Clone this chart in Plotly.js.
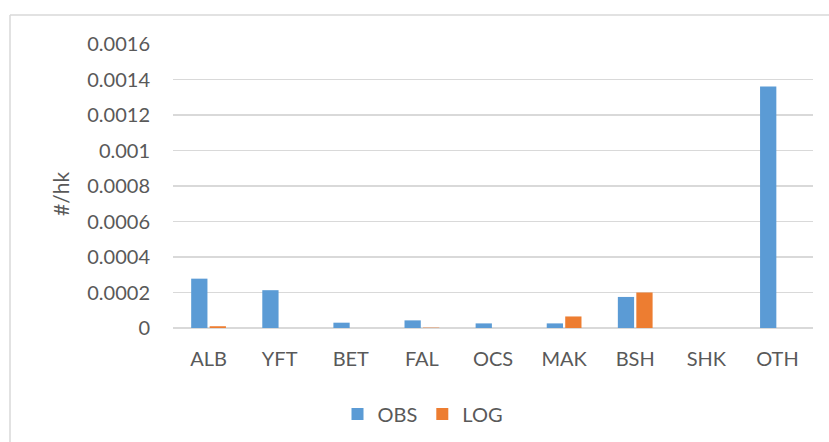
<!DOCTYPE html>
<html>
<head>
<meta charset="utf-8">
<script src="https://cdn.plot.ly/plotly-3.0.1.min.js"></script>
<style>html,body{margin:0;padding:0;background:#fff;}#chart{width:829px;height:442px;}</style>
</head>
<body>
<div id="chart"></div>
<script>
const categories = ["ALB", "YFT", "BET", "FAL", "OCS", "MAK", "BSH", "SHK", "OTH"];
const obsValues = [0.000278, 0.000213, 0.00003, 0.000043, 0.000026, 0.000026, 0.000175, 0, 0.00136];
const logValues = [0.00001, 0, 0, 0.000002, 0, 0.000065, 0.0002, 0, 0];
const yTickVals = [0, 0.0002, 0.0004, 0.0006, 0.0008, 0.001, 0.0012, 0.0014, 0.0016];
const yTickText = ["0", "0.0002", "0.0004", "0.0006", "0.0008", "0.001", "0.0012", "0.0014", "0.0016"];

const fontFam = "Lato, 'Open Sans', sans-serif";
const textColor = "#595959";

const data = [
  {type: "bar", name: "OBS", x: categories, y: obsValues, marker: {color: "#5b9bd5"}},
  {type: "bar", name: "LOG", x: categories, y: logValues, marker: {color: "#ed7d31"}}
];

const L = 173, R = 813, T = 44, B = 328;
const W = R - L, H = B - T;
const px = v => (v - L) / W;
const py = v => (B - v) / H;

const layout = {
  width: 829, height: 442,
  margin: {l: L, r: 829 - R, t: T, b: 442 - B, pad: 0, autoexpand: false},
  paper_bgcolor: "#fff", plot_bgcolor: "#fff",
  barmode: "group", bargap: 0.48, bargroupgap: 0.12,
  font: {family: fontFam, color: textColor, size: 20},
  xaxis: {
    type: "category", showgrid: false, zeroline: false, showline: false,
    ticks: "", ticklabelstandoff: 17, automargin: false,
    tickfont: {family: fontFam, size: 20, color: textColor},
    fixedrange: true
  },
  yaxis: {
    range: [0, 0.0016], tickvals: yTickVals, ticktext: yTickText,
    showgrid: true, gridcolor: "#d9d9d9", gridwidth: 1.3,
    zeroline: true, zerolinecolor: "#d9d9d9", zerolinewidth: 1.3,
    showline: false, ticks: "", ticklabelstandoff: 22, automargin: false,
    tickfont: {family: fontFam, size: 20, color: textColor},
    fixedrange: true
  },
  showlegend: true,
  legend: {
    orientation: "h", xref: "container", yref: "container",
    x: 423 / 829, xanchor: "center", y: 1 - 414 / 442, yanchor: "middle",
    font: {family: fontFam, size: 20, color: textColor},
    itemwidth: 30, traceorder: "normal", itemclick: false
  },
  annotations: [{
    text: "#/hk", xref: "paper", yref: "paper", x: px(60), y: py(194),
    xanchor: "center", yanchor: "middle", textangle: -90, showarrow: false,
    font: {family: fontFam, size: 21, color: textColor}
  }],
  shapes: [
    {type: "line", xref: "paper", yref: "paper", x0: px(10), x1: px(835), y0: py(15), y1: py(15), line: {color: "#d9d9d9", width: 1.5}},
    {type: "line", xref: "paper", yref: "paper", x0: px(10), x1: px(10), y0: py(15), y1: py(450), line: {color: "#d9d9d9", width: 1.5}}
  ]
};

Plotly.newPlot("chart", data, layout, {displayModeBar: false, staticPlot: true});
</script>
</body>
</html>
